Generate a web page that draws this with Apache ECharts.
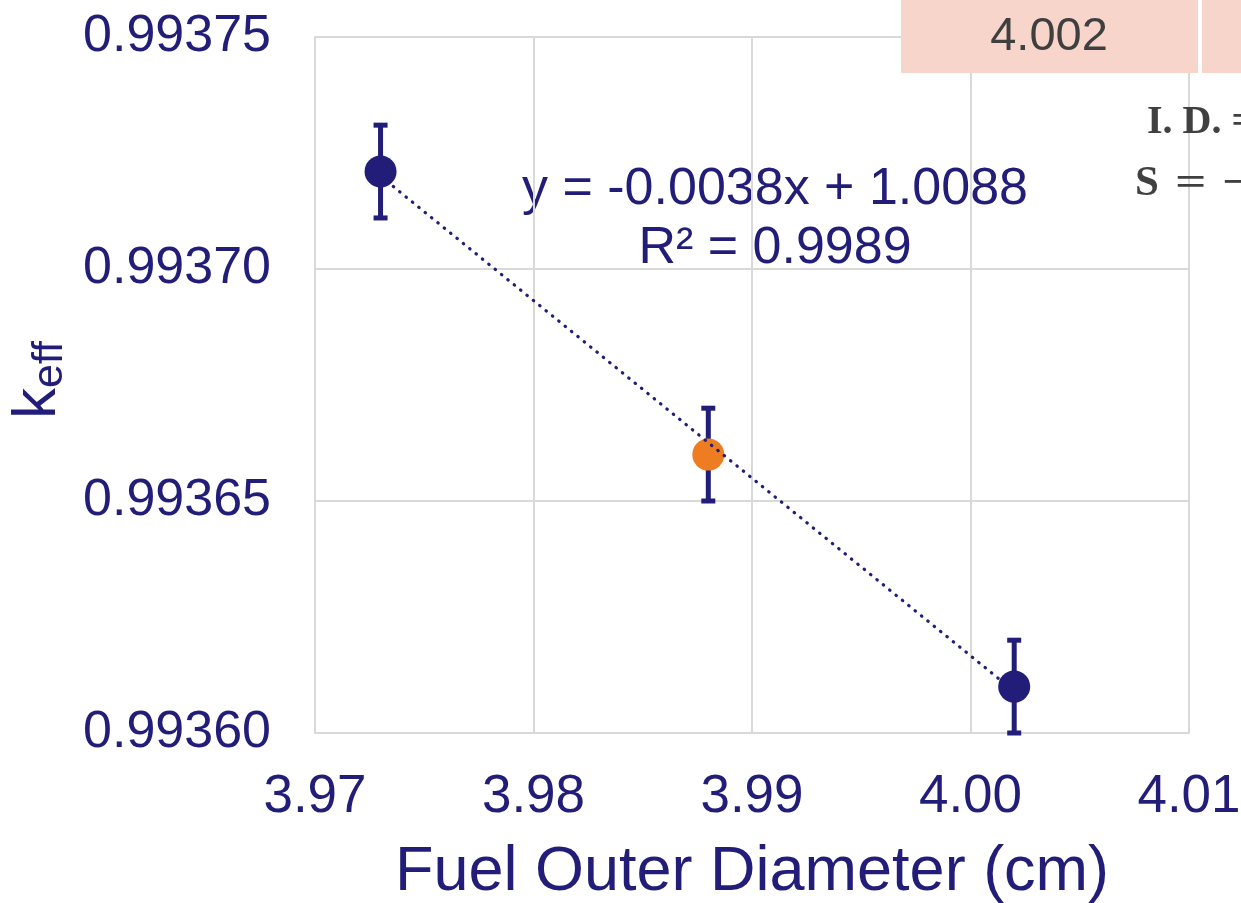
<!DOCTYPE html>
<html>
<head>
<meta charset="utf-8">
<script src="https://cdn.jsdelivr.net/npm/echarts@6/dist/echarts.min.js"></script>
<style>
  html, body { margin: 0; padding: 0; background: #fff; }
  #chart { width: 1241px; height: 903px; }
</style>
</head>
<body>
<div id="chart"></div>
<script>
// fuel outer diameter (cm) vs keff
var diameters = [3.973, 3.988, 4.002];
var keff = [0.993721, 0.99366, 0.99361];
var keffErr = [0.00001, 0.00001, 0.00001];
var pointColors = ['#221D78', '#EE7D22', '#221D78'];

// Excel linear trendline, end points
var trendX = [3.973, 4.002];
var trendY = [0.99372, 0.993609];

var navy = '#221D78';
var font = 'Liberation Sans, Arial, sans-serif';
var serif = 'Liberation Serif, serif';

var myChart = echarts.init(document.getElementById('chart'));

var pts = diameters.map(function (d, i) {
  return { value: [d, keff[i]], itemStyle: { color: pointColors[i], opacity: 1 } };
});
var bars = diameters.map(function (d, i) {
  return [d, keff[i] - keffErr[i], keff[i] + keffErr[i]];
});
var trend = trendX.map(function (x, i) { return [x, trendY[i]]; });

var option = {
  animation: false,
  grid: { left: 315, right: 52, top: 37, bottom: 170, containLabel: false, outerBoundsMode: 'none' },
  xAxis: {
    type: 'value',
    min: 3.97,
    max: 4.01,
    interval: 0.01,
    axisLine: { show: true, lineStyle: { color: '#D9D9D9', width: 2 } },
    axisTick: { show: false },
    splitLine: { lineStyle: { color: '#D9D9D9', width: 2 } },
    axisLabel: {
      color: navy, fontSize: 53, fontFamily: font, margin: 38,
      formatter: function (v) { return v.toFixed(2); }
    },
    name: 'Fuel Outer Diameter (cm)',
    nameLocation: 'middle',
    nameGap: 108,
    nameTextStyle: { color: navy, fontSize: 63, fontFamily: font }
  },
  yAxis: {
    type: 'value',
    min: 0.9936,
    max: 0.99375,
    interval: 0.00005,
    axisLine: { show: true, lineStyle: { color: '#D9D9D9', width: 2 } },
    axisTick: { show: false },
    splitLine: { lineStyle: { color: '#D9D9D9', width: 2 } },
    axisLabel: {
      color: navy, fontSize: 52, fontFamily: font, margin: 44,
      formatter: function (v) { return v.toFixed(5); }
    }
  },
  series: [
    {
      type: 'custom',
      z: 2,
      data: bars,
      renderItem: function (params, api) {
        var top = api.coord([api.value(0), api.value(2)]);
        var bot = api.coord([api.value(0), api.value(1)]);
        var cap = 7;
        var st = { stroke: navy, lineWidth: 5 };
        return {
          type: 'group',
          children: [
            { type: 'line', shape: { x1: top[0], y1: top[1], x2: bot[0], y2: bot[1] }, style: st },
            { type: 'line', shape: { x1: top[0] - cap, y1: top[1], x2: top[0] + cap, y2: top[1] }, style: st },
            { type: 'line', shape: { x1: bot[0] - cap, y1: bot[1], x2: bot[0] + cap, y2: bot[1] }, style: st }
          ]
        };
      }
    },
    {
      type: 'scatter',
      z: 3,
      symbolSize: 32,
      data: pts
    },
    {
      type: 'line',
      z: 4,
      data: trend,
      symbol: 'none',
      lineStyle: { color: navy, width: 3.2, type: [0.5, 7.7], cap: 'round' }
    }
  ],
  graphic: [
    {
      type: 'text', style: {
        x: 775, y: 190, text: 'y = -0.0038x + 1.0088', fill: navy,
        font: '52px ' + font, textAlign: 'center', textVerticalAlign: 'middle'
      }
    },
    {
      type: 'text', style: {
        x: 775, y: 249, text: 'R² = 0.9989', fill: navy,
        font: '52px ' + font, textAlign: 'center', textVerticalAlign: 'middle'
      }
    },
    {
      type: 'text', x: 38, y: 380, rotation: Math.PI / 2,
      style: {
        text: '{k|k}{s|eff}',
        textAlign: 'center', textVerticalAlign: 'middle',
        rich: {
          k: { fontSize: 62, fontFamily: font, fill: navy, color: navy },
          s: { fontSize: 43, fontFamily: font, fill: navy, color: navy, padding: [24, 0, 0, 0] }
        }
      }
    },
    { type: 'rect', z: 10, shape: { x: 901, y: 0, width: 297, height: 73 }, style: { fill: '#F7D5CA' } },
    { type: 'rect', z: 10, shape: { x: 1202, y: 0, width: 40, height: 73 }, style: { fill: '#F7D5CA' } },
    {
      type: 'text', z: 11, style: {
        x: 1049, y: 37, text: '4.002', fill: '#3F3F3F',
        font: '47px ' + font, textAlign: 'center', textVerticalAlign: 'middle'
      }
    },
    {
      type: 'text', z: 11, style: {
        x: 1147, y: 123, text: 'I. D. =', fill: '#404040',
        font: 'bold 40px ' + serif, textVerticalAlign: 'middle'
      }
    },
    {
      type: 'text', z: 11, style: {
        x: 1135, y: 184, text: 'S', fill: '#404040',
        font: 'bold 43px ' + serif, textVerticalAlign: 'middle'
      }
    },
    {
      type: 'text', z: 11, scaleX: 1.35, x: 1175, y: 184, style: {
        x: 0, y: 0, text: '=', fill: '#404040',
        font: 'bold 41px ' + serif, textVerticalAlign: 'middle'
      }
    },
    {
      type: 'text', z: 11, scaleX: 1.35, x: 1222, y: 184, style: {
        x: 0, y: 0, text: '−', fill: '#404040',
        font: 'bold 41px ' + serif, textVerticalAlign: 'middle'
      }
    }
  ]
};

myChart.setOption(option);
</script>
</body>
</html>
